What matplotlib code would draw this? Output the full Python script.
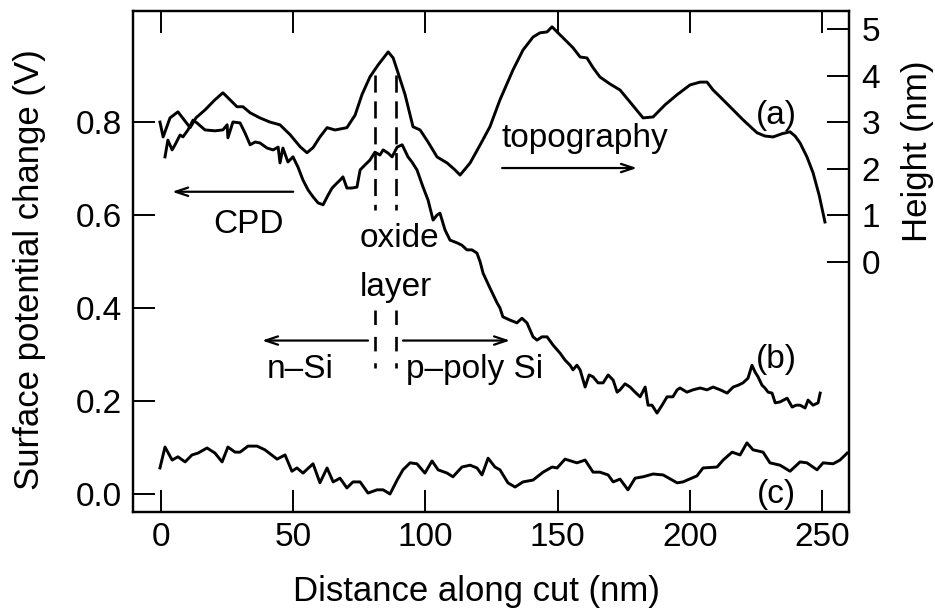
import matplotlib
matplotlib.use("Agg")
import matplotlib.pyplot as plt
from matplotlib import font_manager

names = {f.name for f in font_manager.fontManager.ttflist}
FONT = "Liberation Sans" if "Liberation Sans" in names else "DejaVu Sans"
plt.rcParams["font.family"] = [FONT, "DejaVu Sans"]

# ---------------- data ----------------
# (a) topography, height in nm (right axis)
x_a = [-0.4, 0.8, 3.4, 6.4, 8.7, 11.0, 13.2, 16.6, 20.4, 23.4, 26.1, 28.7, 31.0, 33.7, 37.4,
       41.2, 45.0, 48.8, 52.6, 55.2, 57.5, 60.1, 62.8, 65.8, 70.3, 73.4, 76.0, 79.0, 82.1,
       84.7, 85.9, 87.8, 89.3, 92.3, 95.3, 98.0, 101.0, 104.4, 108.2, 111.2, 113.1, 116.9,
       120.7, 124.4, 128.2, 133.1, 136.9, 140.7, 143.3, 146.0, 147.9, 149.8, 152.8, 155.8,
       158.5, 161.1, 163.4, 166.0, 169.8, 173.6, 177.4, 182.3, 186.1, 190.6, 195.2, 200.1,
       203.9, 206.5, 208.8, 211.5, 215.2, 220.1, 225.4, 228.4, 231.5, 234.9, 237.9, 239.8,
       241.7, 244.3, 246.6, 248.9, 251.1]
h_a = [3.00, 2.68, 3.09, 3.22, 3.05, 2.88, 3.09, 3.26, 3.48, 3.63, 3.48, 3.33, 3.33, 3.20, 3.09,
       3.00, 2.94, 2.73, 2.47, 2.34, 2.45, 2.68, 2.88, 2.83, 2.88, 3.15, 3.59, 3.97, 4.23,
       4.42, 4.51, 4.38, 4.12, 3.59, 2.90, 2.83, 2.57, 2.25, 2.12, 1.97, 1.86, 2.12,
       2.51, 2.90, 3.48, 4.12, 4.55, 4.83, 4.92, 4.94, 5.05, 4.94, 4.77, 4.60,
       4.40, 4.38, 4.17, 3.97, 3.82, 3.69, 3.43, 3.09, 3.11, 3.37, 3.59, 3.80,
       3.86, 3.86, 3.69, 3.54, 3.33, 3.05, 2.77, 2.70, 2.68, 2.75, 2.79, 2.70,
       2.55, 2.25, 1.91, 1.43, 0.85]

# (b) CPD, surface potential change in V (left axis)
x_b = [1.5, 2.6, 4.2, 5.3, 7.2, 8.3, 10.2, 12.1, 13.6, 16.6, 20.4, 23.4, 25.0, 25.3, 27.2,
       29.9, 31.8, 33.7, 35.6, 37.4, 40.1, 42.4, 44.3, 45.0, 46.1, 48.0, 49.9, 51.8, 53.7,
       55.6, 57.5, 59.4, 61.3, 63.2, 64.7, 66.6, 67.7, 68.8, 70.3, 72.2, 74.1, 75.3, 77.2,
       79.0, 80.9, 82.8, 84.0, 85.9, 87.4, 89.3, 91.2, 93.4, 94.9, 96.8, 99.1, 101.0,
       102.9, 104.4, 105.5, 107.4, 109.3, 112.0, 113.8, 115.7, 117.6, 119.5, 120.7, 121.8,
       124.4, 127.1, 128.2, 129.3, 132.0, 134.6, 136.5, 138.4, 140.7, 142.2, 144.1, 146.0,
       148.3, 150.9, 152.8, 154.7, 155.8, 157.3, 158.5, 160.4, 161.9, 163.4, 165.3, 167.2,
       169.1, 171.0, 172.5, 173.6, 175.5, 177.4, 179.3, 181.2, 183.1, 184.2, 185.7, 187.6,
       189.5, 191.4, 193.6, 195.2, 196.3, 198.9, 201.2, 203.9, 206.5, 208.8, 211.5, 214.1,
       216.4, 218.3, 220.1, 222.0, 223.5, 224.7, 225.8, 227.3, 228.4, 229.6, 231.1, 232.3,
       234.1, 236.8, 238.7, 240.2, 241.7, 243.6, 244.7, 246.6, 248.5, 249.3]
v_b = [0.725, 0.761, 0.740, 0.751, 0.772, 0.768, 0.783, 0.804, 0.798, 0.783, 0.781, 0.783,
       0.794, 0.766, 0.800, 0.798, 0.776, 0.751, 0.757, 0.755, 0.744, 0.740, 0.746, 0.712,
       0.744, 0.714, 0.725, 0.703, 0.675, 0.654, 0.639, 0.626, 0.622, 0.643, 0.658, 0.669,
       0.675, 0.682, 0.658, 0.658, 0.660, 0.697, 0.708, 0.718, 0.735, 0.729, 0.740, 0.733,
       0.725, 0.746, 0.751, 0.725, 0.714, 0.697, 0.660, 0.632, 0.589, 0.600, 0.604, 0.568,
       0.546, 0.540, 0.535, 0.525, 0.525, 0.518, 0.499, 0.475, 0.443, 0.411, 0.400, 0.381,
       0.374, 0.368, 0.378, 0.368, 0.338, 0.331, 0.338, 0.338, 0.320, 0.303, 0.288, 0.277,
       0.267, 0.277, 0.267, 0.230, 0.256, 0.252, 0.239, 0.239, 0.256, 0.245, 0.219, 0.224,
       0.237, 0.230, 0.219, 0.209, 0.230, 0.191, 0.191, 0.174, 0.191, 0.209, 0.209, 0.224,
       0.228, 0.219, 0.224, 0.228, 0.224, 0.230, 0.224, 0.217, 0.230, 0.234, 0.239, 0.249,
       0.277, 0.262, 0.252, 0.234, 0.228, 0.219, 0.217, 0.196, 0.198, 0.206, 0.187, 0.191,
       0.191, 0.185, 0.202, 0.191, 0.196, 0.217]

# (c) reference trace, V (left axis)
x_c = [-0.4, 1.5, 4.2, 6.4, 9.1, 11.7, 14.0, 17.4, 20.4, 23.1, 25.3, 28.0, 29.9, 32.9, 36.3,
       39.3, 43.9, 46.9, 49.5, 51.4, 53.7, 57.5, 60.1, 62.8, 65.1, 67.7, 70.3, 72.6, 75.3,
       78.3, 81.7, 84.0, 86.6, 89.3, 91.5, 94.2, 96.8, 99.8, 102.5, 104.8, 108.2, 110.4,
       113.8, 116.9, 119.5, 121.4, 123.7, 126.3, 128.2, 131.2, 133.9, 136.9, 140.7, 144.5,
       147.9, 149.8, 152.8, 157.3, 160.4, 163.4, 166.0, 169.1, 171.0, 173.6, 176.6, 179.3,
       182.3, 186.1, 189.9, 195.2, 197.4, 202.7, 205.0, 210.3, 212.6, 216.0, 219.0, 221.6,
       223.9, 227.7, 230.3, 234.1, 237.9, 241.7, 244.3, 248.1, 250.4, 254.2, 256.8, 259.5]
v_c = [0.056, 0.101, 0.073, 0.080, 0.069, 0.084, 0.088, 0.099, 0.088, 0.069, 0.101, 0.090,
       0.090, 0.103, 0.103, 0.095, 0.075, 0.084, 0.049, 0.056, 0.045, 0.065, 0.024, 0.056,
       0.026, 0.034, 0.013, 0.026, 0.026, 0.002, 0.009, 0.009, 0.000, 0.030, 0.052, 0.067,
       0.065, 0.045, 0.071, 0.052, 0.045, 0.037, 0.058, 0.062, 0.056, 0.041, 0.077, 0.058,
       0.052, 0.024, 0.015, 0.026, 0.030, 0.047, 0.058, 0.056, 0.075, 0.067, 0.073, 0.047,
       0.047, 0.041, 0.026, 0.032, 0.009, 0.034, 0.037, 0.043, 0.041, 0.024, 0.026, 0.039,
       0.056, 0.058, 0.073, 0.090, 0.084, 0.110, 0.095, 0.090, 0.067, 0.062, 0.049, 0.069,
       0.067, 0.052, 0.067, 0.065, 0.073, 0.088]

x_ticks = [0, 50, 100, 150, 200, 250]
v_ticks = [0.0, 0.2, 0.4, 0.6, 0.8]
h_ticks = [0, 1, 2, 3, 4, 5]

# ---------------- figure ----------------
FS = 24
FL = 25
LW = 2.1
fig = plt.figure(figsize=(9.35, 6.13), dpi=100)
ax = fig.add_axes([133 / 935, 1 - 512 / 613, 716 / 935, 501 / 613])
ax2 = ax.twinx()

ax.plot(x_b, v_b, color="black", lw=LW, solid_joinstyle="round")
ax.plot(x_c, v_c, color="black", lw=LW, solid_joinstyle="round")
ax2.plot(x_a, h_a, color="black", lw=LW, solid_joinstyle="round")

ax.set_xlim(-10.6, 260.2)
ax.set_ylim(-0.0387, 1.0387)
ax2.set_ylim(-5.39, 5.39)

ax.set_xticks(x_ticks)
ax.set_xticklabels([str(t) for t in x_ticks])
ax.set_yticks(v_ticks)
ax.set_yticklabels([f"{t:.1f}" for t in v_ticks])
ax2.set_yticks(h_ticks)
ax2.set_yticklabels([str(t) for t in h_ticks])

for a in (ax, ax2):
    for s in a.spines.values():
        s.set_linewidth(1.6)
ax.tick_params(axis="x", which="both", direction="in", top=True, bottom=True,
               length=16, width=1.4, labelsize=FS, pad=7)
ax.tick_params(axis="y", direction="in", left=True, right=False,
               length=16, width=1.4, labelsize=FS, pad=8)
ax2.tick_params(axis="y", direction="in", right=True, left=False,
                length=16, width=1.4, labelsize=FS, pad=9)

fig.text(476 / 935, 1 - 592 / 613, "Distance along cut (nm)",
         ha="center", va="center", fontsize=FL)
fig.text(30 / 935, 1 - 270 / 613, "Surface potential change (V)", rotation=90,
         ha="center", va="center", fontsize=FL)
fig.text(917 / 935, 1 - 151 / 613, "Height (nm)", rotation=90,
         ha="center", va="center", fontsize=FL)

# annotations
def arrow(x0, x1, y):
    ax.annotate("", xy=(x1, y), xytext=(x0, y),
                arrowprops=dict(arrowstyle="->,head_length=0.9,head_width=0.3",
                                lw=1.6, color="black", shrinkA=0, shrinkB=0))

arrow(50, 4.2, 0.650)
arrow(129, 180, 0.701)
arrow(78.3, 38.2, 0.330)
arrow(91.5, 132, 0.330)

for xd in (80.9, 88.9):
    ax.plot([xd, xd], [0.901, 0.611], color="black", lw=1.9, dashes=(6.5, 3.3))
    ax.plot([xd, xd], [0.396, 0.271], color="black", lw=1.9, dashes=(5.5, 4.5))

ax.text(232.6, 0.795, "(a)", fontsize=FS, ha="center", va="baseline")
ax.text(232.6, 0.270, "(b)", fontsize=FS, ha="center", va="baseline")
ax.text(232.6, -0.019, "(c)", fontsize=FS, ha="center", va="baseline")
ax.text(160.2, 0.747, "topography", fontsize=FS, ha="center", va="baseline")
ax.text(32.9, 0.5606, "CPD", fontsize=FS, ha="center", va="baseline")
ax.text(90.0, 0.531, "oxide", fontsize=FS, ha="center", va="baseline")
ax.text(88.7, 0.4265, "layer", fontsize=FS, ha="center", va="baseline")
ax.text(52.6, 0.249, "n\u2013Si", fontsize=FS, ha="center", va="baseline")
ax.text(118.4, 0.249, "p\u2013poly Si", fontsize=FS, ha="center", va="baseline")

fig.savefig("out.png", dpi=100)
